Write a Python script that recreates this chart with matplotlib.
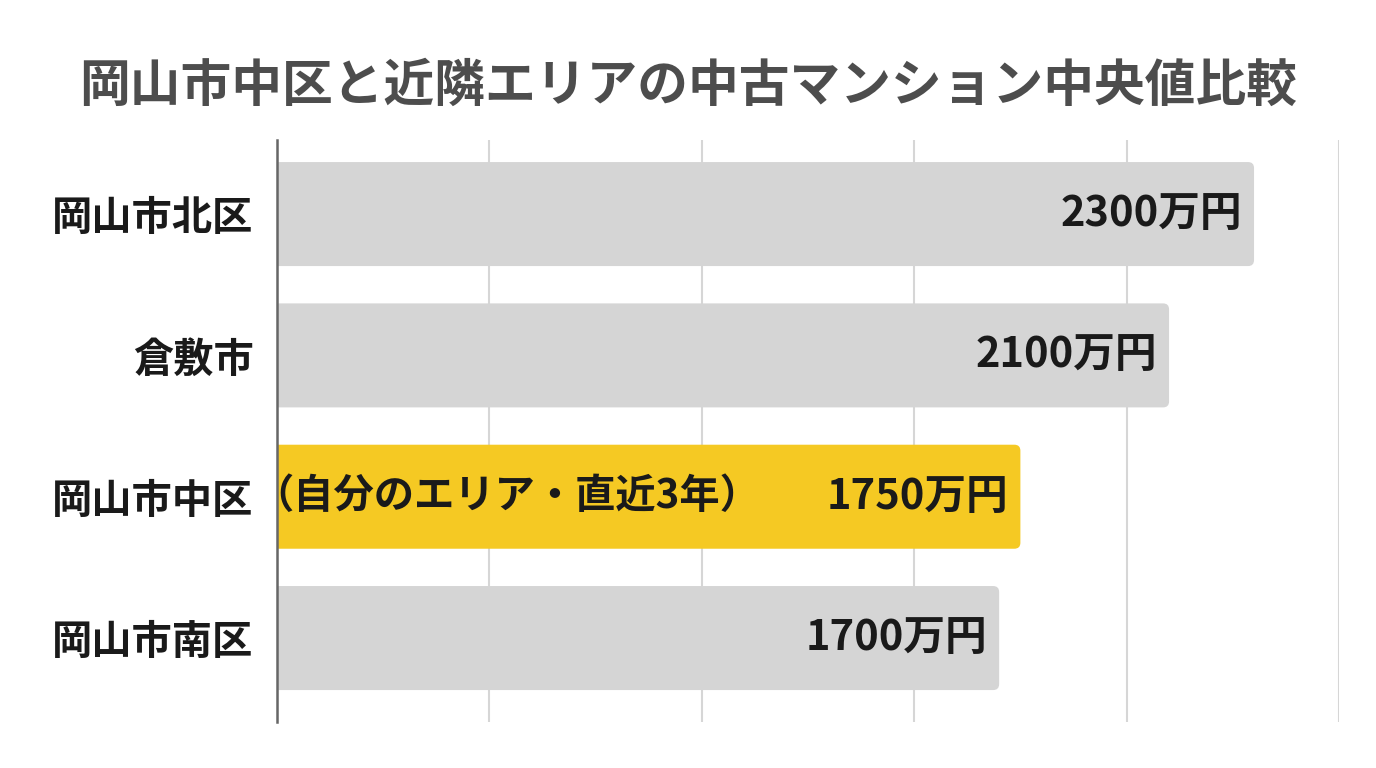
import matplotlib
matplotlib.use("Agg")
import matplotlib.pyplot as plt
from matplotlib.patches import FancyBboxPatch

plt.rcParams['font.family'] = ['Noto Sans CJK JP', 'DejaVu Sans']

# data
areas = ['岡山市北区', '倉敷市', '岡山市中区', '岡山市南区']
prices = [2300, 2100, 1750, 1700]
value_labels = ['2300万円', '2100万円', '1750万円', '1700万円']
highlight = '岡山市中区'
highlight_note = '（自分のエリア・直近3年）'
title = '岡山市中区と近隣エリアの中古マンション中央値比較'
xticks = [0, 500, 1000, 1500, 2000, 2500]

gray = '#d5d5d5'
yellow = '#f5c923'

fig = plt.figure(figsize=(13.76, 7.68), dpi=100)
ax = fig.add_axes([0.2013, 0.0599, 0.7718, 0.7578])

ax.set_xlim(0, 2500)
ax.set_ylim(len(areas) - 1 + 0.594, -0.524)

# axis pixel scale for rounded corners
ax_w_px = 0.7718 * 1376
ax_h_px = 0.7578 * 768
x_per_px = 2500 / ax_w_px
y_per_px = (len(areas) - 1 + 0.594 + 0.524) / ax_h_px

bar_h = 0.736
for i, (a, v) in enumerate(zip(areas, prices)):
    c = yellow if a == highlight else gray
    patch = FancyBboxPatch((-20, i - bar_h / 2), v + 20, bar_h,
                           boxstyle='round,pad=0,rounding_size=%f' % (6 * x_per_px),
                           mutation_aspect=y_per_px / x_per_px,
                           facecolor=c, edgecolor='none', zorder=2, clip_on=True)
    ax.add_patch(patch)
    ax.text(v - 12 * x_per_px, i, value_labels[i], ha='right', va='center',
            fontsize=30, fontweight='bold', color='#1a1a1a', zorder=3)
    if a == highlight:
        ax.text(-24 * x_per_px, i, highlight_note, ha='left', va='center',
                fontsize=29, fontweight='bold', color='#1a1a1a', zorder=3)

ax.set_yticks(range(len(areas)))
ax.set_yticklabels(areas, fontsize=29, fontweight='bold', color='#1a1a1a')
ax.tick_params(axis='y', length=0, pad=17)
ax.set_xticks(xticks)
ax.tick_params(axis='x', length=0, labelbottom=False)
ax.grid(axis='x', color='#d6d6d6', linewidth=1.5, zorder=0)
ax.set_axisbelow(True)

for s in ['top', 'right', 'bottom']:
    ax.spines[s].set_visible(False)
ax.spines['left'].set_color('#666666')
ax.spines['left'].set_linewidth(1.8)
ax.spines['left'].set_zorder(4)

fig.text(0.50, 0.888, title, ha='center', va='center', fontsize=36.5,
         fontweight='bold', color='#4d4d4d')

fig.savefig('out.png', dpi=100, facecolor='white')
